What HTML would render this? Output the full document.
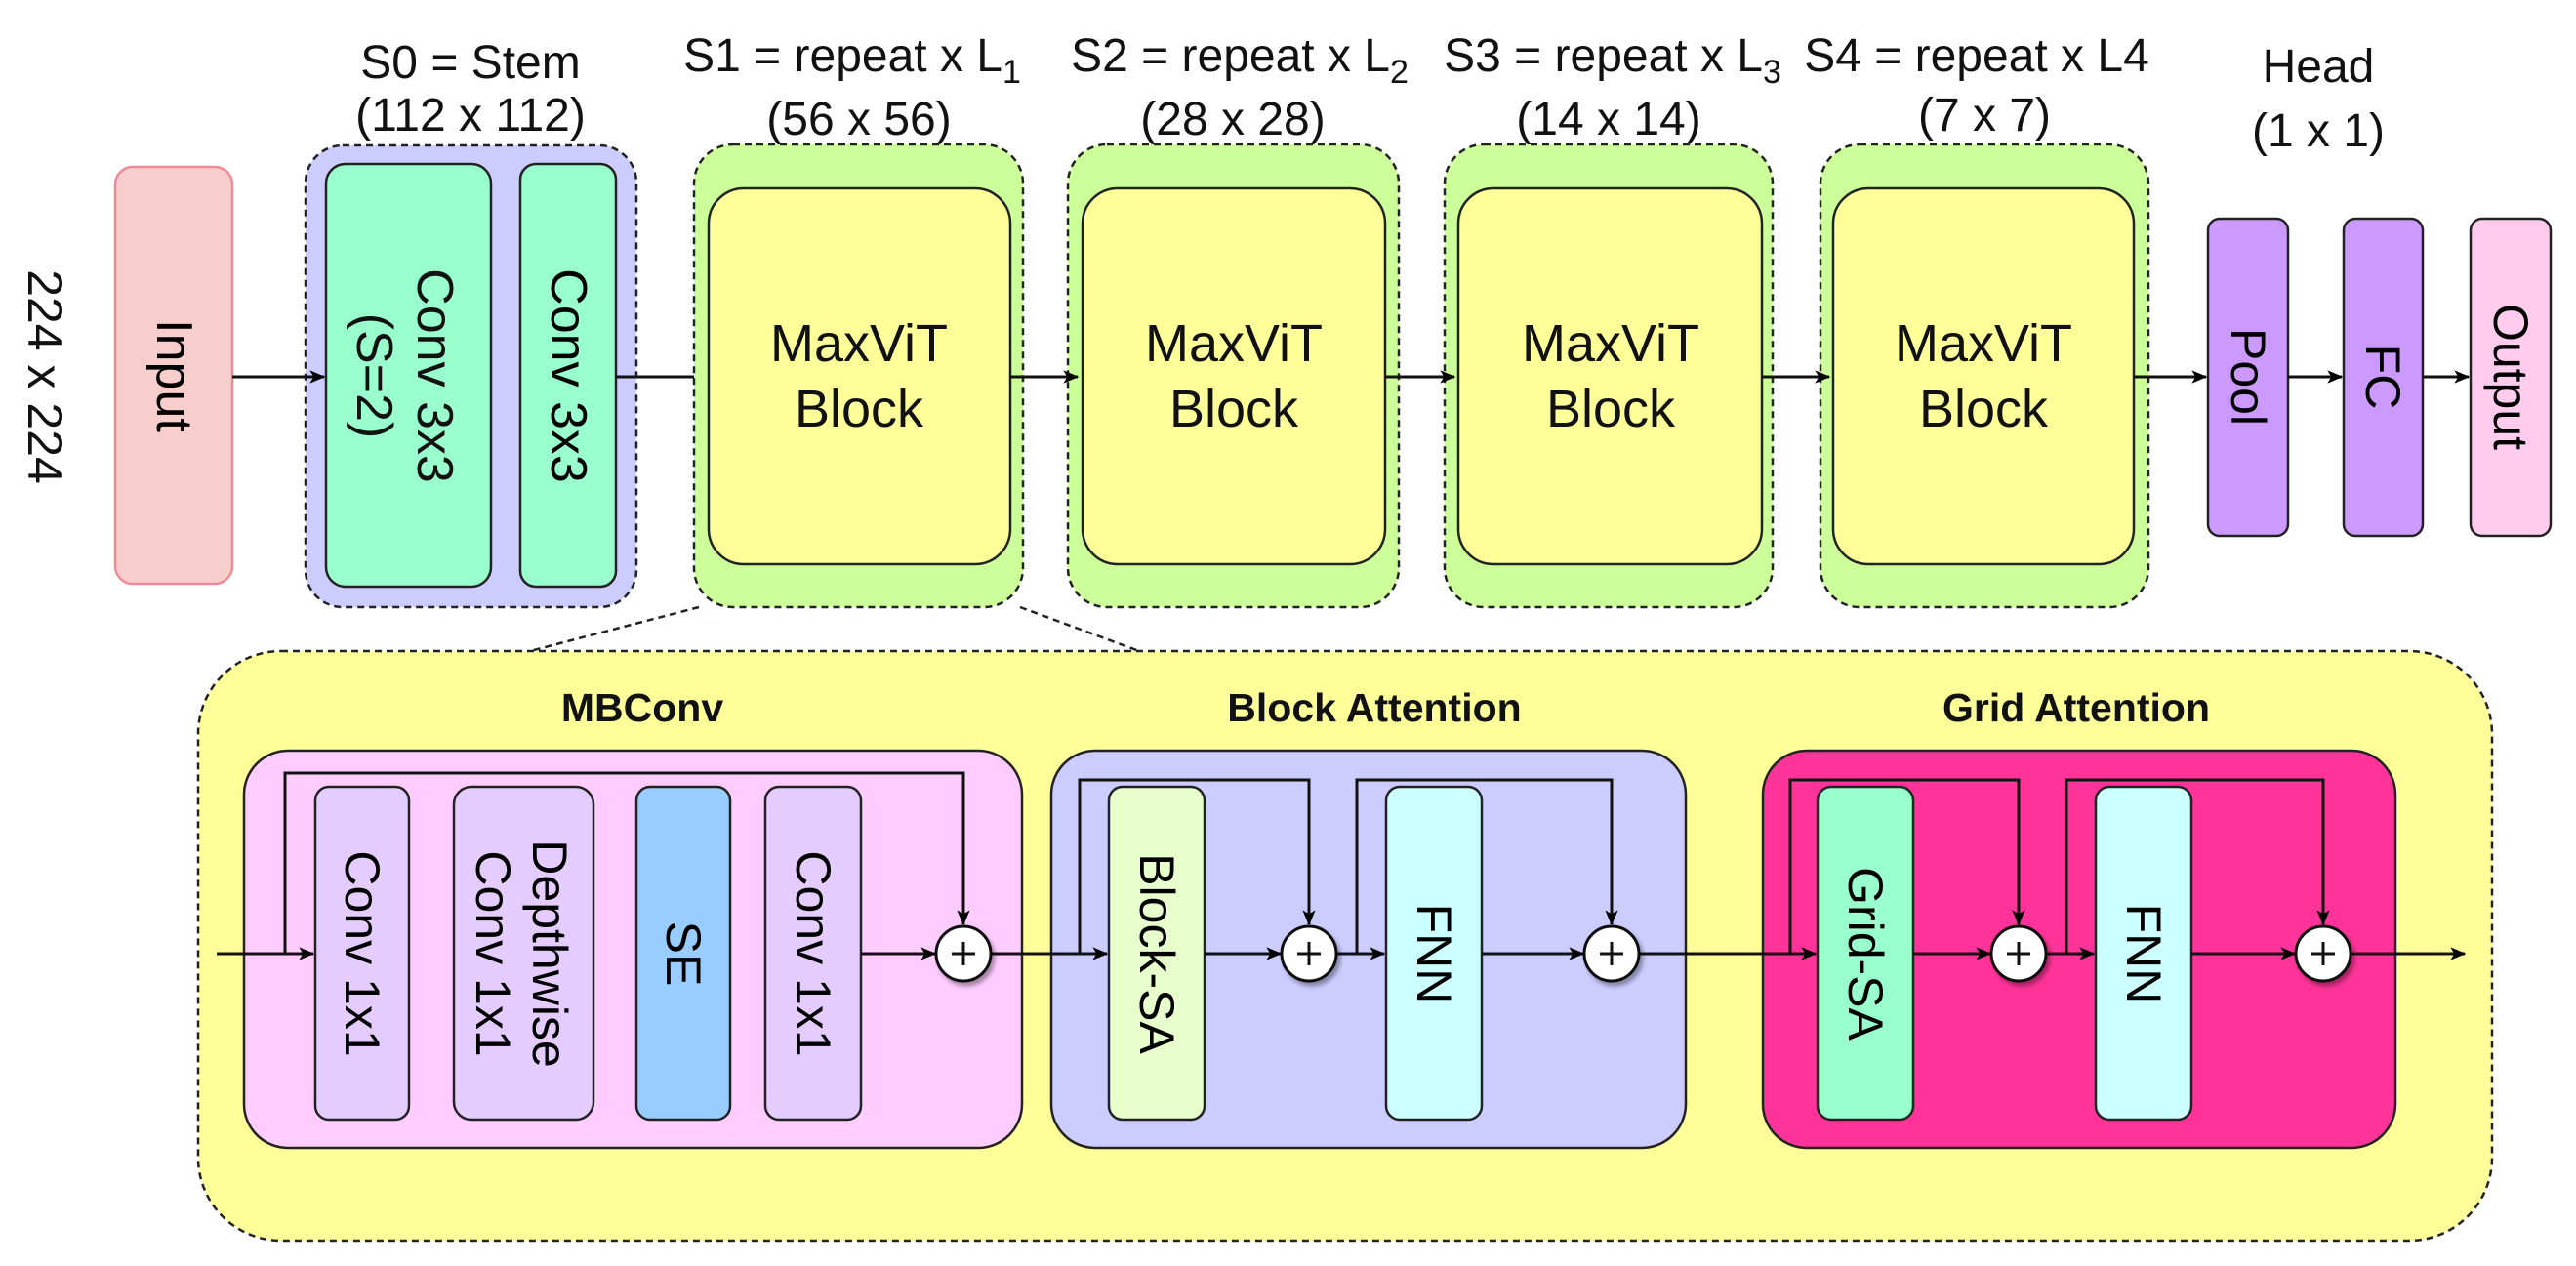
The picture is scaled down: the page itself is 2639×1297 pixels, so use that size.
<!DOCTYPE html>
<html><head><meta charset="utf-8">
<style>html,body{margin:0;padding:0;background:#fff;}svg{display:block;}</style>
</head><body>
<svg width="2639" height="1297" viewBox="0 0 2639 1297" xmlns="http://www.w3.org/2000/svg" font-family="'Liberation Sans', Arial, sans-serif">
<defs>
<marker id="a" viewBox="0 0 12 10" refX="11" refY="5" markerWidth="16" markerHeight="14" markerUnits="userSpaceOnUse" orient="auto"><path d="M0,0 L12,5 L0,10 L3,5 Z" fill="#000"/></marker>
<filter id="sh" x="-30%" y="-30%" width="170%" height="170%"><feDropShadow dx="3" dy="4" stdDeviation="2" flood-color="#000" flood-opacity="0.35"/></filter>
</defs>

<!-- Top titles -->
<g font-size="48" fill="#111" text-anchor="middle">
<text x="482" y="80">S0 = Stem</text>
<text x="482" y="134">(112 x 112)</text>
<text x="873" y="73">S1 = repeat x L<tspan font-size="34" dy="12">1</tspan></text>
<text x="880" y="138">(56 x 56)</text>
<text x="1270" y="73">S2 = repeat x L<tspan font-size="34" dy="12">2</tspan></text>
<text x="1263" y="138">(28 x 28)</text>
<text x="1652" y="73">S3 = repeat x L<tspan font-size="34" dy="12">3</tspan></text>
<text x="1648" y="138">(14 x 14)</text>
<text x="2025" y="73">S4 = repeat x L4</text>
<text x="2033" y="134">(7 x 7)</text>
<text x="2375" y="84">Head</text>
<text x="2375" y="150">(1 x 1)</text>
</g>

<!-- 224 x 224 -->
<text transform="translate(46,386) rotate(90)" font-size="50" text-anchor="middle" dominant-baseline="central" fill="#111">224 x 224</text>

<!-- Input -->
<rect x="118" y="171" width="120" height="427" rx="18" fill="#f8cecc" stroke="#f08a96" stroke-width="2.5"/>
<text transform="translate(178,385) rotate(90)" font-size="52" text-anchor="middle" dominant-baseline="central">Input</text>

<!-- Stem -->
<rect x="313" y="149" width="339" height="473" rx="38" fill="#ccccff" stroke="#222" stroke-width="2.5" stroke-dasharray="7,5"/>
<rect x="334" y="168" width="169" height="433" rx="20" fill="#99ffcc" stroke="#222" stroke-width="2.5"/>
<text transform="translate(418,385) rotate(90)" font-size="52" text-anchor="middle" fill="#111"><tspan x="0" dy="-10">Conv 3x3</tspan><tspan x="0" dy="62">(S=2)</tspan></text>
<rect x="533" y="168" width="98" height="433" rx="16" fill="#99ffcc" stroke="#222" stroke-width="2.5"/>
<text transform="translate(582,385) rotate(90)" font-size="52" text-anchor="middle" dominant-baseline="central">Conv 3x3</text>

<!-- Stages -->
<g>
<rect x="711" y="148" width="337" height="474" rx="40" fill="#ccff99" stroke="#222" stroke-width="2.5" stroke-dasharray="7,5"/>
<rect x="726" y="193" width="309" height="385" rx="36" fill="#ffff99" stroke="#222" stroke-width="2.5"/>
<rect x="1094" y="148" width="339" height="474" rx="40" fill="#ccff99" stroke="#222" stroke-width="2.5" stroke-dasharray="7,5"/>
<rect x="1109" y="193" width="310" height="385" rx="36" fill="#ffff99" stroke="#222" stroke-width="2.5"/>
<rect x="1480" y="148" width="336" height="474" rx="40" fill="#ccff99" stroke="#222" stroke-width="2.5" stroke-dasharray="7,5"/>
<rect x="1494" y="193" width="311" height="385" rx="36" fill="#ffff99" stroke="#222" stroke-width="2.5"/>
<rect x="1865" y="148" width="336" height="474" rx="40" fill="#ccff99" stroke="#222" stroke-width="2.5" stroke-dasharray="7,5"/>
<rect x="1878" y="193" width="308" height="385" rx="36" fill="#ffff99" stroke="#222" stroke-width="2.5"/>
</g>
<g font-size="54" text-anchor="middle" fill="#111">
<text x="880" y="370">MaxViT</text><text x="880" y="437">Block</text>
<text x="1264" y="370">MaxViT</text><text x="1264" y="437">Block</text>
<text x="1650" y="370">MaxViT</text><text x="1650" y="437">Block</text>
<text x="2032" y="370">MaxViT</text><text x="2032" y="437">Block</text>
</g>

<!-- Head -->
<rect x="2262" y="224" width="82" height="325" rx="12" fill="#cc99ff" stroke="#222" stroke-width="2.5"/>
<text transform="translate(2303,386) rotate(90)" font-size="50" text-anchor="middle" dominant-baseline="central">Pool</text>
<rect x="2401" y="224" width="81" height="325" rx="12" fill="#cc99ff" stroke="#222" stroke-width="2.5"/>
<text transform="translate(2441,386) rotate(90)" font-size="50" text-anchor="middle" dominant-baseline="central">FC</text>
<rect x="2531" y="224" width="82" height="325" rx="12" fill="#ffccee" stroke="#222" stroke-width="2.5"/>
<text transform="translate(2572,386) rotate(90)" font-size="50" text-anchor="middle" dominant-baseline="central">Output</text>

<!-- Top arrows -->
<g stroke="#111" stroke-width="3" fill="none">
<line x1="238" y1="386" x2="332" y2="386" marker-end="url(#a)"/>
<line x1="631" y1="386" x2="711" y2="386"/>
<line x1="1035" y1="386" x2="1104" y2="386" marker-end="url(#a)"/>
<line x1="1419" y1="386" x2="1490" y2="386" marker-end="url(#a)"/>
<line x1="1805" y1="386" x2="1874" y2="386" marker-end="url(#a)"/>
<line x1="2186" y1="386" x2="2260" y2="386" marker-end="url(#a)"/>
<line x1="2344" y1="386" x2="2399" y2="386" marker-end="url(#a)"/>
<line x1="2482" y1="386" x2="2529" y2="386" marker-end="url(#a)"/>
</g>

<!-- Zoom connectors -->
<g stroke="#222" stroke-width="2.5" stroke-dasharray="7,5" fill="none">
<line x1="716" y1="622" x2="543" y2="667"/>
<line x1="1045" y1="622" x2="1167" y2="667"/>
</g>

<!-- Big yellow -->
<rect x="203" y="667" width="2350" height="604" rx="85" fill="#ffff99" stroke="#222" stroke-width="2.5" stroke-dasharray="7,5"/>

<g font-size="41" font-weight="bold" text-anchor="middle" fill="#111">
<text x="658" y="739">MBConv</text>
<text x="1408" y="739">Block Attention</text>
<text x="2127" y="739">Grid Attention</text>
</g>

<!-- MBConv -->
<rect x="250" y="769" width="797" height="407" rx="45" fill="#ffccff" stroke="#222" stroke-width="2.5"/>
<rect x="323" y="806" width="96" height="341" rx="14" fill="#e5ccff" stroke="#222" stroke-width="2.5"/>
<text transform="translate(371,977) rotate(90)" font-size="50" text-anchor="middle" dominant-baseline="central">Conv 1x1</text>
<rect x="465" y="806" width="143" height="341" rx="18" fill="#e5ccff" stroke="#222" stroke-width="2.5"/>
<text transform="translate(536,977) rotate(90)" font-size="50" text-anchor="middle"><tspan x="0" dy="-10">Depthwise</tspan><tspan x="0" dy="58">Conv 1x1</tspan></text>
<rect x="652" y="806" width="96" height="341" rx="14" fill="#99ccff" stroke="#222" stroke-width="2.5"/>
<text transform="translate(700,977) rotate(90)" font-size="50" text-anchor="middle" dominant-baseline="central">SE</text>
<rect x="784" y="806" width="98" height="341" rx="14" fill="#e5ccff" stroke="#222" stroke-width="2.5"/>
<text transform="translate(833,977) rotate(90)" font-size="50" text-anchor="middle" dominant-baseline="central">Conv 1x1</text>

<!-- Block attention -->
<rect x="1077" y="769" width="650" height="407" rx="45" fill="#ccccff" stroke="#222" stroke-width="2.5"/>
<rect x="1136" y="806" width="98" height="341" rx="14" fill="#e6ffcc" stroke="#222" stroke-width="2.5"/>
<text transform="translate(1185,977) rotate(90)" font-size="50" text-anchor="middle" dominant-baseline="central">Block-SA</text>
<rect x="1420" y="806" width="98" height="341" rx="14" fill="#ccffff" stroke="#222" stroke-width="2.5"/>
<text transform="translate(1469,977) rotate(90)" font-size="50" text-anchor="middle" dominant-baseline="central">FNN</text>

<!-- Grid attention -->
<rect x="1806" y="769" width="648" height="407" rx="45" fill="#ff3399" stroke="#222" stroke-width="2.5"/>
<rect x="1862" y="806" width="98" height="341" rx="14" fill="#99ffcc" stroke="#222" stroke-width="2.5"/>
<text transform="translate(1911,977) rotate(90)" font-size="50" text-anchor="middle" dominant-baseline="central">Grid-SA</text>
<rect x="2147" y="806" width="98" height="341" rx="14" fill="#ccffff" stroke="#222" stroke-width="2.5"/>
<text transform="translate(2196,977) rotate(90)" font-size="50" text-anchor="middle" dominant-baseline="central">FNN</text>

<!-- Bottom connectors -->
<g stroke="#111" stroke-width="3" fill="none">
<line x1="222" y1="977" x2="321" y2="977" marker-end="url(#a)"/>
<polyline points="292,977 292,792 987,792 987,947" marker-end="url(#a)"/>
<line x1="882" y1="977" x2="958" y2="977" marker-end="url(#a)"/>
<line x1="1016" y1="977" x2="1134" y2="977" marker-end="url(#a)"/>
<polyline points="1106,977 1106,799 1341,799 1341,947" marker-end="url(#a)"/>
<line x1="1234" y1="977" x2="1312" y2="977" marker-end="url(#a)"/>
<line x1="1370" y1="977" x2="1418" y2="977" marker-end="url(#a)"/>
<polyline points="1390,977 1390,799 1651,799 1651,947" marker-end="url(#a)"/>
<line x1="1518" y1="977" x2="1622" y2="977" marker-end="url(#a)"/>
<line x1="1680" y1="977" x2="1860" y2="977" marker-end="url(#a)"/>
<polyline points="1834,977 1834,799 2068,799 2068,947" marker-end="url(#a)"/>
<line x1="1960" y1="977" x2="2039" y2="977" marker-end="url(#a)"/>
<line x1="2097" y1="977" x2="2145" y2="977" marker-end="url(#a)"/>
<polyline points="2117,977 2117,799 2380,799 2380,947" marker-end="url(#a)"/>
<line x1="2245" y1="977" x2="2351" y2="977" marker-end="url(#a)"/>
<line x1="2409" y1="977" x2="2525" y2="977" marker-end="url(#a)"/>
</g>

<!-- Plus circles -->
<g stroke="#111" stroke-width="3">
<g filter="url(#sh)">
<circle cx="987" cy="977" r="28" fill="#fff"/>
<circle cx="1341" cy="977" r="28" fill="#fff"/>
<circle cx="1651" cy="977" r="28" fill="#fff"/>
<circle cx="2068" cy="977" r="28" fill="#fff"/>
<circle cx="2380" cy="977" r="28" fill="#fff"/>
</g>
<path d="M975,977h24M987,965v24 M1329,977h24M1341,965v24 M1639,977h24M1651,965v24 M2056,977h24M2068,965v24 M2368,977h24M2380,965v24" fill="none"/>
</g>
</svg>
</body></html>
